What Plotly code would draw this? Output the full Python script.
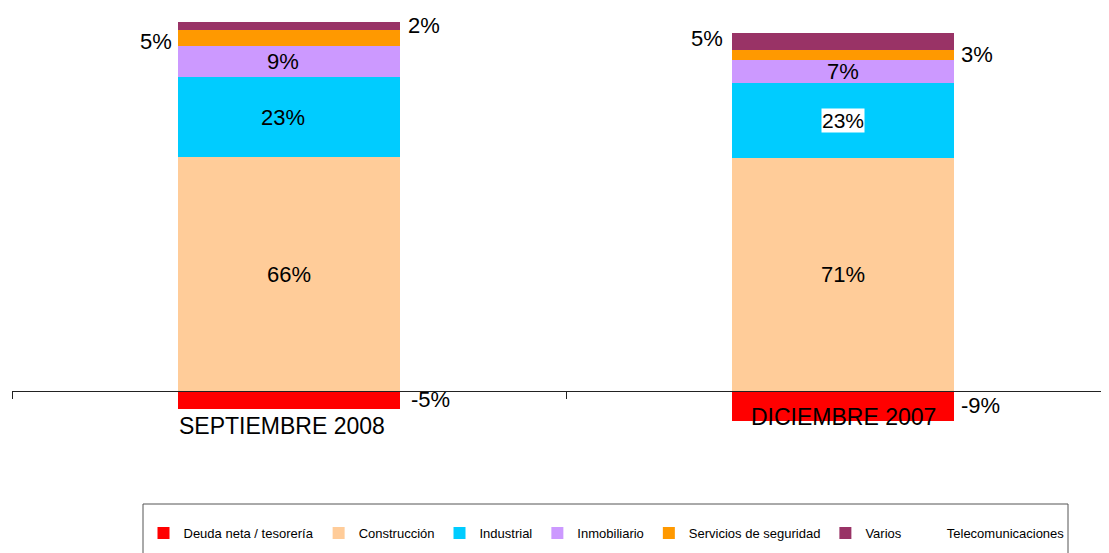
import plotly.graph_objects as go

# ---------------- data ----------------
categories = ["SEPTIEMBRE 2008", "DICIEMBRE 2007"]
series_names = ["Deuda neta / tesorería", "Construcción", "Industrial", "Inmobiliario",
                "Servicios de seguridad", "Varios", "Telecomunicaciones"]

deuda = [-5.4, -9.1]
construccion = [71.2, 71.1]
industrial = [24.5, 22.9]
inmobiliario = [9.5, 7.0]
servicios = [4.8, 3.0]
varios = [2.4, 5.3]
telecomunicaciones = [0, 0]

deuda_pct = ["-5%", "-9%"]
construccion_pct = ["66%", "71%"]
industrial_pct = ["23%", "23%"]
inmobiliario_pct = ["9%", "7%"]
servicios_pct = ["5%", "3%"]
varios_pct = ["2%", "5%"]
telecomunicaciones_pct = ["", ""]

# ---------------- style ----------------
colors = ["#FF0000", "#FFCC99", "#00CCFF", "#CC99FF", "#FF9900", "#993366", "#FFFFFF"]
FONT = "Arial, 'Liberation Sans', sans-serif"

values = [deuda, construccion, industrial, inmobiliario, servicios, varios, telecomunicaciones]
labels = [deuda_pct, construccion_pct, industrial_pct, inmobiliario_pct, servicios_pct,
          varios_pct, telecomunicaciones_pct]

# label placement (xshift, yshift, size, bg) per (series, category)
placement = {
    (0, 0): (141, 0, 22, None), (0, 1): (137, 0, 22, None),
    (1, 0): (0, 0, 22, None), (1, 1): (0, 0, 22, None),
    (2, 0): (-6, 0, 22, None), (2, 1): (0, 0, 21, "white"),
    (3, 0): (-6, 0, 22, None), (3, 1): (0, 0, 22, None),
    (4, 0): (-133, -3, 22, None), (4, 1): (134, 0, 22, None),
    (5, 0): (135, 1, 22, None), (5, 1): (-136, 3, 22, None),
}
cat_label_shift = [(-7, -35), (0, -26.5)]

Y_MIN, Y_MAX = -24.09, 116.16

# figure is placed at (8, 8) inside the page by the default body margin
W, H = 1101, 545
L, T, B = 4, 2, 83
PW, PH = W - L, H - T - B


def px_x(page_x):
    return (page_x - 8 - L) / PW


def px_y(page_y):
    return 1 - (page_y - 8 - T) / PH


fig = go.Figure()
for name, vals, col in zip(series_names, values, colors):
    fig.add_trace(go.Bar(
        name=name, x=categories, y=vals, width=0.4,
        marker=dict(color=col, line=dict(width=0)),
        hoverinfo="skip",
    ))

annotations = []
for ci, cat in enumerate(categories):
    base = 0.0
    for si, vals in enumerate(values):
        v = vals[ci]
        if v < 0:
            center = v / 2.0
        else:
            center = base + v / 2.0
            base += v
        if (si, ci) not in placement:
            continue
        xs, ys, sz, bg = placement[(si, ci)]
        a = dict(x=cat, y=center, xref="x", yref="y", text=labels[si][ci],
                 showarrow=False, xshift=xs, yshift=ys,
                 font=dict(family=FONT, size=sz, color="black"),
                 xanchor="center", yanchor="middle")
        if bg:
            a["bgcolor"] = bg
            a["borderpad"] = 0
        annotations.append(a)
    xs, ys = cat_label_shift[ci]
    annotations.append(dict(x=cat, y=0, xref="x", yref="y", text=cat, showarrow=False,
                            xshift=xs, yshift=ys, xanchor="center", yanchor="middle",
                            font=dict(family=FONT, size=23, color="black")))

zero_pos = (0 - Y_MIN) / (Y_MAX - Y_MIN)

fig.update_layout(
    width=W, height=H,
    margin=dict(l=L, r=0, t=T, b=B, pad=0),
    paper_bgcolor="white", plot_bgcolor="white",
    barmode="relative", bargap=0,
    font=dict(family=FONT, color="black"),
    xaxis=dict(type="category", range=[-0.5, 1.48], anchor="free", position=zero_pos,
               showline=True, linecolor="#222222", linewidth=1,
               ticks="outside", tickson="boundaries", ticklen=7, tickcolor="#222222",
               showticklabels=False, showgrid=False, zeroline=False, fixedrange=True),
    yaxis=dict(range=[Y_MIN, Y_MAX], visible=False, showgrid=False, zeroline=False),
    showlegend=True,
    legend=dict(orientation="h", x=px_x(606.5), xanchor="center", y=px_y(533), yanchor="middle",
                font=dict(family=FONT, size=13, color="black"),
                bgcolor="rgba(0,0,0,0)", borderwidth=0, traceorder="normal",
                itemclick=False, itemdoubleclick=False),
    annotations=annotations,
    shapes=[dict(type="rect", xref="paper", yref="paper",
                 x0=px_x(143), x1=px_x(1068), y0=px_y(504), y1=px_y(575),
                 line=dict(color="#555555", width=1), fillcolor="rgba(0,0,0,0)")],
)

fig.write_html("out.html")
